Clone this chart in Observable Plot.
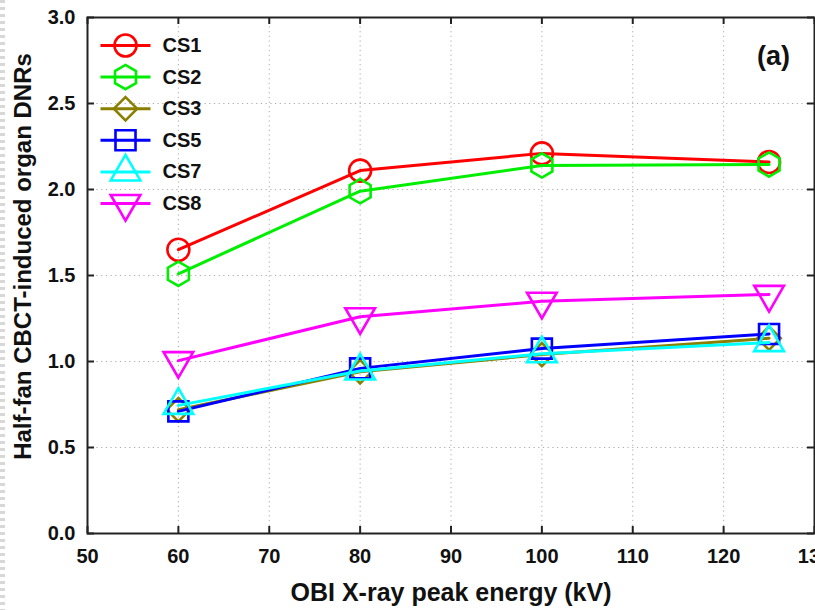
<!DOCTYPE html>
<html><head><meta charset="utf-8">
<script src="https://cdn.jsdelivr.net/npm/d3@7"></script>
<script src="https://cdn.jsdelivr.net/npm/@observablehq/plot@0.6"></script>
<style>
body{margin:0;background:#fff;}
#chart{position:relative;width:815px;height:610px;}
#edge{position:absolute;left:0;top:0;width:5px;height:610px;background:repeating-linear-gradient(to bottom,#d8d8d8 0 3px,transparent 3px 7px);}
</style>
</head><body><div id="chart"><div id="edge"></div></div>
<script>
const kv = [60, 80, 100, 125];
const seriesNames = ["CS1", "CS2", "CS3", "CS5", "CS7", "CS8"];
const cs1 = [1.65, 2.11, 2.21, 2.16];
const cs2 = [1.51, 1.99, 2.14, 2.145];
const cs3 = [0.72, 0.94, 1.04, 1.135];
const cs5 = [0.71, 0.96, 1.075, 1.16];
const cs7 = [0.745, 0.945, 1.045, 1.11];
const cs8 = [1.005, 1.26, 1.35, 1.39];
const seriesValues = [cs1, cs2, cs3, cs5, cs7, cs8];
const colors = ["#ff0000", "#00ee00", "#8a7f00", "#0000ff", "#00ffff", "#ff00ff"];
const symbols = ["circle", "hexagon", "diamond2", "square", "triangle", "triangle"];
const rotations = [0, 0, 0, 0, 0, 180];
const radii = [11, 10.5, 10.5, 11.3, 11, 11];
const xTicks = [50, 60, 70, 80, 90, 100, 110, 120, 130];
const yTicks = [0, 0.5, 1.0, 1.5, 2.0, 2.5, 3.0];
const xLabel = "OBI X-ray peak energy (kV)";
const yLabel = "Half-fan CBCT-induced organ DNRs";
const panelLabel = "(a)";

const W = 815, H = 610;
const mL = 87, mT = 17, mR = 1, mB = 77;
const frameW = W - mL - mR, frameH = H - mT - mB;
const font = "'Liberation Sans', Arial, sans-serif";

const hline = { draw(ctx, size) { ctx.moveTo(-25, 0); ctx.lineTo(25, 0); } };

const marks = [
  Plot.gridX(xTicks.slice(1, -1), {stroke: "#aaa", strokeOpacity: 1, strokeDasharray: "1.2,3.5", strokeWidth: 1}),
  Plot.gridY(yTicks.slice(1, -1), {stroke: "#aaa", strokeOpacity: 1, strokeDasharray: "1.2,3.5", strokeWidth: 1}),
  Plot.ruleX(xTicks, {insetTop: frameH - 7, stroke: "#222", strokeWidth: 2}),
  Plot.ruleX(xTicks, {insetBottom: frameH - 7, stroke: "#222", strokeWidth: 2}),
  Plot.ruleY(yTicks, {insetLeft: frameW - 7, stroke: "#222", strokeWidth: 2}),
  Plot.ruleY(yTicks, {insetRight: frameW - 7, stroke: "#222", strokeWidth: 2}),
  Plot.axisX(xTicks, {tickSize: 0, tickPadding: 15, fontSize: 20, fontWeight: "bold", label: null, fill: "#111"}),
  Plot.axisY(yTicks, {tickSize: 0, tickPadding: 12, fontSize: 20, fontWeight: "bold", label: null, tickFormat: d3.format(".1f"), fill: "#111"}),
];

seriesValues.forEach((vals, i) => {
  const data = kv.map((k, j) => ({kv: k, v: vals[j]}));
  marks.push(Plot.line(data, {x: "kv", y: "v", stroke: colors[i], strokeWidth: 3}));
  marks.push(Plot.dot(data, {x: "kv", y: "v", stroke: colors[i], strokeWidth: 2.6, fill: "none", symbol: symbols[i], r: radii[i], rotate: rotations[i]}));
});

// legend
seriesNames.forEach((name, i) => {
  const dy = 28 + i * 31.6;
  marks.push(Plot.dot([name], {frameAnchor: "top-left", dx: 38, dy, symbol: hline, stroke: colors[i], strokeWidth: 3, r: 5}));
  marks.push(Plot.dot([name], {frameAnchor: "top-left", dx: 38, dy, symbol: symbols[i], rotate: rotations[i], r: radii[i], stroke: colors[i], strokeWidth: 2.6, fill: "none"}));
  marks.push(Plot.text([name], {frameAnchor: "top-left", dx: 75, dy, text: d => d, textAnchor: "start", lineAnchor: "middle", fontSize: 20, fontWeight: "bold", fill: "#111"}));
});

marks.push(Plot.text([panelLabel], {frameAnchor: "top-right", dx: -41, dy: 39, text: d => d, textAnchor: "middle", lineAnchor: "middle", fontSize: 27, fontWeight: "bold", fill: "#111"}));
marks.push(Plot.text([xLabel], {frameAnchor: "bottom", dy: 59, text: d => d, textAnchor: "middle", lineAnchor: "middle", fontSize: 25, fontWeight: "bold", fill: "#111"}));
marks.push(Plot.text([yLabel], {frameAnchor: "left", dx: -64, dy: -19, rotate: -90, text: d => d, textAnchor: "middle", lineAnchor: "middle", fontSize: 24, fontWeight: "bold", fill: "#111"}));
marks.push(Plot.frame({stroke: "#222", strokeWidth: 2}));

const chart = Plot.plot({
  width: W, height: H,
  marginLeft: mL, marginTop: mT, marginRight: mR, marginBottom: mB,
  x: {domain: [50, 130]},
  y: {domain: [0, 3]},
  style: {fontFamily: font, background: "transparent"},
  marks
});
document.getElementById("chart").appendChild(chart);
</script></body></html>
